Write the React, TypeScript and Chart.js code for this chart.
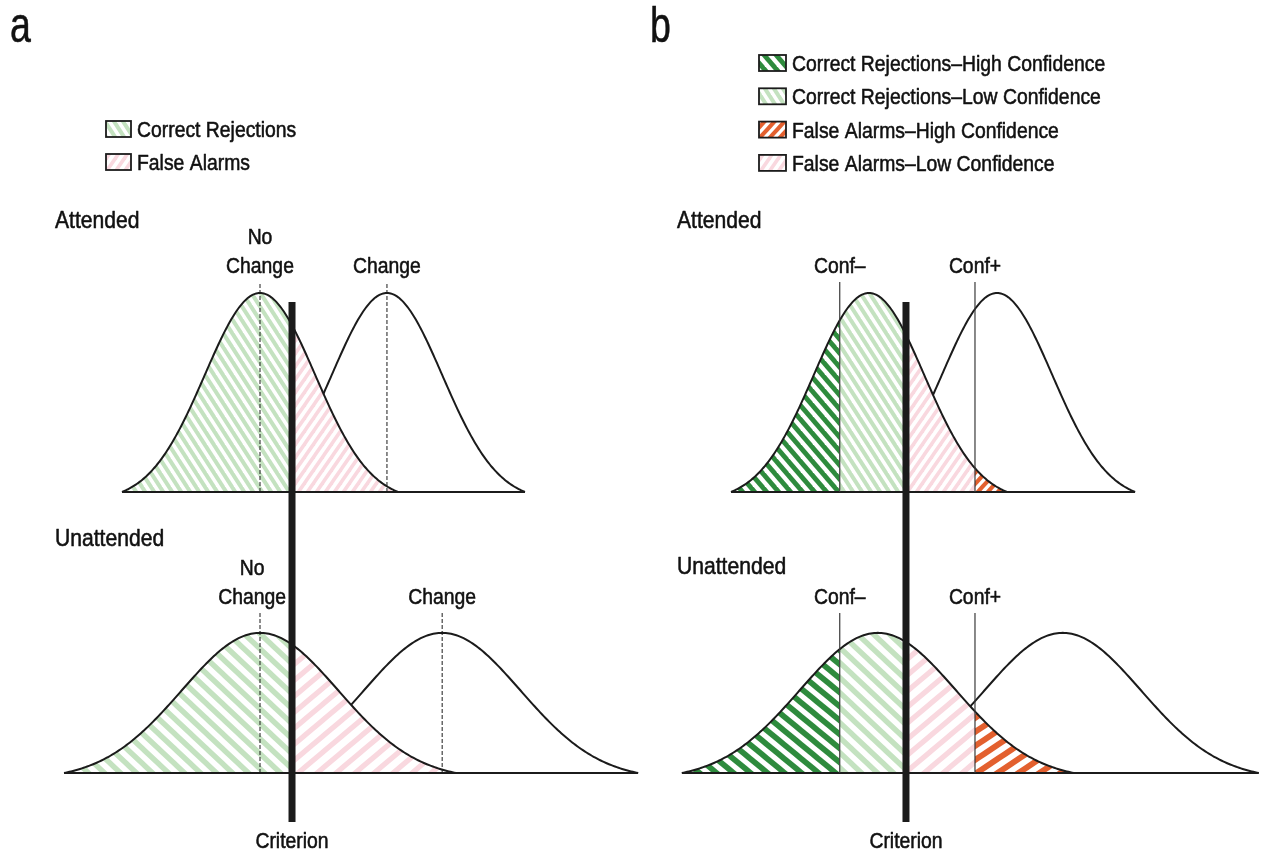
import React, { useEffect, useRef } from "react";
import { Chart, registerables } from "chart.js";

Chart.register(...registerables);

// ---------------- data ----------------
const panelLetters = ["a", "b"];
const rowTitles = ["Attended", "Unattended"];
const legendLabelsA = ["Correct Rejections", "False Alarms"];
const legendLabelsB = [
  "Correct Rejections–High Confidence",
  "Correct Rejections–Low Confidence",
  "False Alarms–High Confidence",
  "False Alarms–Low Confidence",
];
const noChangeLabel = ["No", "Change"];
const changeLabel = "Change";
const confLabels = ["Conf–", "Conf+"];
const criterionLabel = "Criterion";

// distributions in units of the attended "no change" SD; index 0 = attended, 1 = unattended
const sdByRow = [1, 1.42];
const aNoiseMean = [0, 0];
const aSignalMean = [2.3, 3.3];
const aCriterion = 0.58;
const bNoiseMean = [0, 0.16];
const bSignalMean = [2.32, 3.51];
const bCriterion = 0.67;
const bConfidence = [-0.53, 1.92];

// ---------------- layout / style ----------------
const W = 1266;
const H = 852;
const COL_A_W = 645;
const COL_B_LEFT = 645;
const COL_B_W = W - COL_B_LEFT;
const PX_PER_X = 55.2;
const PX_PER_Y = 199;
const ROW_BASE = [1.412, 0];
const MARK_EXT = [0.055, 0.1];
const TAIL = 2.5;
const EK = Math.exp((-TAIL * TAIL) / 2);
const Y_MIN = -(H - 773) / PX_PER_Y;
const Y_MAX = 773 / PX_PER_Y;
const CRIT_BOTTOM = -0.246;
const CRIT_TOP = 2.367;

const INK = "#1b1b1b";
const C_LIGHT_GREEN = "#c4e2c0";
const C_PINK = "#f9d8df";
const C_DARK_GREEN = "#2e8b3d";
const C_ORANGE = "#e3602f";
const FONT = '"Liberation Sans", Arial, Helvetica, sans-serif';

type Dir = "\\" | "/";
type HatchDef = { color: string; dir: Dir; rows: number[][] };
// [horizontal period px, angle deg, stroke thickness px] for attended / unattended rows
const HATCH: Record<string, HatchDef> = {
  lightGreen: { color: C_LIGHT_GREEN, dir: "\\", rows: [[9, 57, 4.0], [16, 43, 5.4]] },
  pink: { color: C_PINK, dir: "/", rows: [[9, 55, 3.6], [19, 40, 5.2]] },
  darkGreen: { color: C_DARK_GREEN, dir: "\\", rows: [[12, 50, 4.8], [16.8, 40, 5.6]] },
  orange: { color: C_ORANGE, dir: "/", rows: [[10, 47, 4.2], [21, 34, 6.0]] },
};

function makeHatch(ctx: CanvasRenderingContext2D, name: string, row: number): CanvasPattern {
  const def = HATCH[name];
  const [period, angle, thick] = def.rows[row];
  const w = Math.max(2, Math.round(period));
  const h = Math.max(2, Math.round(period * Math.tan((angle * Math.PI) / 180)));
  const c = document.createElement("canvas");
  c.width = w;
  c.height = h;
  const g = c.getContext("2d")!;
  g.fillStyle = "#ffffff";
  g.fillRect(0, 0, w, h);
  g.strokeStyle = def.color;
  g.lineWidth = thick;
  g.lineCap = "butt";
  for (let k = -2; k <= 2; k++) {
    g.beginPath();
    if (def.dir === "\\") {
      g.moveTo(k * w - w, -h);
      g.lineTo(k * w + 2 * w, 2 * h);
    } else {
      g.moveTo(k * w - w, 2 * h);
      g.lineTo(k * w + 2 * w, -h);
    }
    g.stroke();
  }
  return ctx.createPattern(c, "repeat")!;
}

type Pt = { x: number; y: number };

function density(x: number, mu: number, sd: number): number {
  const z = (x - mu) / sd;
  if (Math.abs(z) > TAIL) return 0;
  return (Math.exp((-z * z) / 2) - EK) / (1 - EK) / sd;
}

function curvePts(mu: number, sd: number, base: number, x0: number, x1: number, n = 220): Pt[] {
  const pts: Pt[] = [];
  for (let i = 0; i <= n; i++) {
    const x = x0 + ((x1 - x0) * i) / n;
    pts.push({ x, y: base + density(x, mu, sd) });
  }
  return pts;
}

const vline = (x: number, y0: number, y1: number): Pt[] => [
  { x, y: y0 },
  { x, y: y1 },
];
const hline = (x0: number, x1: number, y: number): Pt[] => [
  { x: x0, y },
  { x: x1, y },
];

function lineDs(data: Pt[], color: string, width: number, order: number, dash: number[] = []) {
  return {
    data,
    borderColor: color,
    borderWidth: width,
    borderDash: dash,
    borderCapStyle: "butt",
    fill: false,
    pointRadius: 0,
    tension: 0,
    order,
  };
}

function fillDs(data: Pt[], pattern: CanvasPattern, base: number, order: number) {
  return {
    data,
    borderColor: "rgba(0,0,0,0)",
    borderWidth: 0,
    backgroundColor: pattern,
    fill: { value: base },
    pointRadius: 0,
    tension: 0,
    order,
  };
}

function drawText(
  ctx: CanvasRenderingContext2D,
  text: string,
  x: number,
  y: number,
  size: number,
  align: CanvasTextAlign = "left",
  sx = 0.88
) {
  ctx.save();
  ctx.font = `${size}px ${FONT}`;
  ctx.fillStyle = "#111111";
  ctx.strokeStyle = "#111111";
  ctx.lineWidth = 0.55;
  ctx.lineJoin = "round";
  ctx.textBaseline = "alphabetic";
  ctx.textAlign = align;
  ctx.translate(x, y);
  ctx.scale(sx, 1);
  ctx.fillText(text, 0, 0);
  ctx.strokeText(text, 0, 0);
  ctx.restore();
}

function textWidth(ctx: CanvasRenderingContext2D, text: string, size: number, sx = 0.88) {
  ctx.save();
  ctx.font = `${size}px ${FONT}`;
  const w = ctx.measureText(text).width * sx;
  ctx.restore();
  return w;
}

function legendBox(ctx: CanvasRenderingContext2D, x: number, y: number, w: number, h: number, p: CanvasPattern) {
  ctx.save();
  ctx.fillStyle = p;
  ctx.fillRect(x, y, w, h);
  ctx.lineWidth = 1.8;
  ctx.strokeStyle = INK;
  ctx.strokeRect(x, y, w, h);
  ctx.restore();
}

function buildColumn(canvas: HTMLCanvasElement, col: number): Chart {
  const ctx = canvas.getContext("2d")!;
  const offsetLeft = col === 0 ? 0 : COL_B_LEFT;
  const colW = col === 0 ? COL_A_W : COL_B_W;
  const xOrigin = (col === 0 ? 260 : 869) - offsetLeft;
  const xMin = -xOrigin / PX_PER_X;
  const xMax = xMin + colW / PX_PER_X;

  const noiseMean = col === 0 ? aNoiseMean : bNoiseMean;
  const signalMean = col === 0 ? aSignalMean : bSignalMean;
  const crit = col === 0 ? aCriterion : bCriterion;

  const datasets: any[] = [];
  const markerTops: number[] = [];
  for (let r = 0; r < 2; r++) {
    const sd = sdByRow[r];
    const base = ROW_BASE[r];
    const mn = noiseMean[r];
    const ms = signalMean[r];
    const lo = mn - TAIL * sd;
    const hi = mn + TAIL * sd;
    const slo = ms - TAIL * sd;
    const shi = ms + TAIL * sd;
    const top = base + density(mn, mn, sd) + MARK_EXT[r];
    markerTops.push(top);

    datasets.push(lineDs(curvePts(ms, sd, base, slo, shi), INK, 2, 10));

    let cuts: number[];
    let pats: string[];
    if (col === 0) {
      cuts = [lo, crit, hi];
      pats = ["lightGreen", "pink"];
    } else {
      cuts = [lo, bConfidence[0], crit, bConfidence[1], hi];
      pats = ["darkGreen", "lightGreen", "pink", "orange"];
    }
    for (let i = 0; i < pats.length; i++) {
      const x0 = Math.max(lo, cuts[i]);
      const x1 = Math.min(hi, cuts[i + 1]);
      if (x1 <= x0) continue;
      datasets.push(fillDs(curvePts(mn, sd, base, x0, x1, 120), makeHatch(ctx, pats[i], r), base, 6));
    }

    datasets.push(lineDs(curvePts(mn, sd, base, lo, hi), INK, 2, 4));
    datasets.push(lineDs(hline(lo, shi, base), INK, 2, 3));

    if (col === 0) {
      datasets.push(lineDs(vline(mn, base, top), INK, 1, 2, [4, 2]));
      datasets.push(lineDs(vline(ms, base, top), INK, 1, 2, [4, 2]));
    } else {
      for (const c of bConfidence) datasets.push(lineDs(vline(c, base, top), "#3a3a3a", 1.2, 2));
    }
  }
  datasets.push(lineDs(vline(crit, CRIT_BOTTOM, CRIT_TOP), INK, 7, 1));

  const legendPats =
    col === 0
      ? [makeHatch(ctx, "lightGreen", 0), makeHatch(ctx, "pink", 0)]
      : [
          makeHatch(ctx, "darkGreen", 0),
          makeHatch(ctx, "lightGreen", 0),
          makeHatch(ctx, "orange", 0),
          makeHatch(ctx, "pink", 0),
        ];

  const textPlugin = {
    id: "labels" + col,
    afterDraw(chart: any) {
      const c: CanvasRenderingContext2D = chart.ctx;
      const xs = chart.scales.x;
      const ys = chart.scales.y;
      const L = (pageX: number) => pageX - offsetLeft;
      drawText(c, panelLetters[col], L(col === 0 ? 10 : 650), 42, 50, "left", 0.75);

      if (col === 0) {
        legendLabelsA.forEach((t, i) => {
          const cy = 129 + i * 33;
          legendBox(c, L(106), cy - 8, 25, 16, legendPats[i]);
          drawText(c, t, L(137), cy + 8, 22);
        });
      } else {
        legendLabelsB.forEach((t, i) => {
          const cy = 63 + i * 33.3;
          legendBox(c, L(759), cy - 8, 27, 16, legendPats[i]);
          drawText(c, t, L(792), cy + 8, 22);
        });
      }

      const titleY = col === 0 ? [228, 546] : [228, 574];
      rowTitles.forEach((t, r) => drawText(c, t, L(col === 0 ? 55 : 677), titleY[r], 24));

      const critPx = xs.getPixelForValue(crit);
      for (let r = 0; r < 2; r++) {
        const labY = ys.getPixelForValue(markerTops[r]) - 9;
        if (col === 0) {
          let nx = xs.getPixelForValue(noiseMean[r]);
          if (r === 1) {
            const hw = textWidth(c, noChangeLabel[1], 22) / 2;
            nx = Math.min(nx, critPx - 6 - hw);
          }
          drawText(c, noChangeLabel[0], nx, labY - 29, 22, "center");
          drawText(c, noChangeLabel[1], nx, labY, 22, "center");
          drawText(c, changeLabel, xs.getPixelForValue(signalMean[r]), labY, 22, "center");
        } else {
          bConfidence.forEach((v, i) => drawText(c, confLabels[i], xs.getPixelForValue(v), labY, 22, "center"));
        }
      }
      drawText(c, criterionLabel, critPx, 848, 22, "center");
    },
  };

  return new Chart(canvas, {
    type: "line",
    data: { datasets },
    options: {
      animation: false,
      responsive: true,
      maintainAspectRatio: false,
      events: [],
      layout: { padding: 0 },
      plugins: {
        legend: { display: false },
        tooltip: { enabled: false },
        title: { display: false },
      },
      elements: { point: { radius: 0 }, line: { tension: 0 } },
      scales: {
        x: { type: "linear", min: xMin, max: xMax, display: false },
        y: { type: "linear", min: Y_MIN, max: Y_MAX, display: false },
      },
    } as any,
    plugins: [textPlugin as any],
  } as any);
}

export default function App() {
  const refA = useRef<HTMLCanvasElement>(null);
  const refB = useRef<HTMLCanvasElement>(null);

  useEffect(() => {
    const charts: Chart[] = [];
    if (refA.current) charts.push(buildColumn(refA.current, 0));
    if (refB.current) charts.push(buildColumn(refB.current, 1));
    return () => charts.forEach((c) => c.destroy());
  }, []);

  return (
    <div
      style={{
        position: "absolute",
        left: 0,
        top: 0,
        width: W,
        height: H,
        background: "#ffffff",
        overflow: "hidden",
      }}
    >
      <div style={{ position: "absolute", left: 0, top: 0, width: COL_A_W, height: H }}>
        <canvas ref={refA} />
      </div>
      <div style={{ position: "absolute", left: COL_B_LEFT, top: 0, width: COL_B_W, height: H }}>
        <canvas ref={refB} />
      </div>
    </div>
  );
}
